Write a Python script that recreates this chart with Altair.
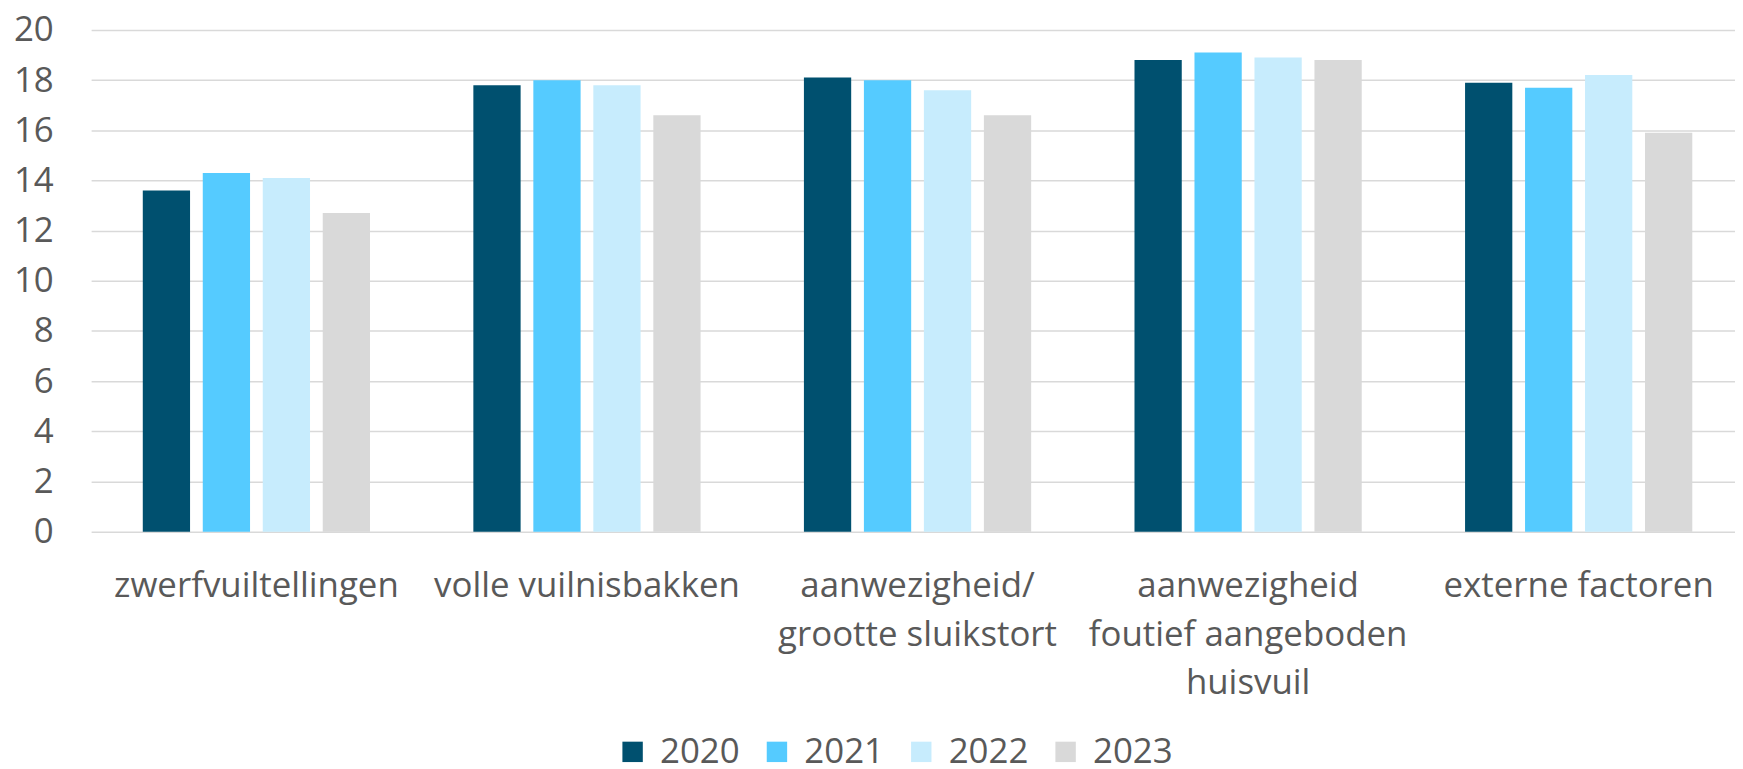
import altair as alt
import pandas as pd

categories = [
    "zwerfvuiltellingen",
    "volle vuilnisbakken",
    "aanwezigheid/|grootte sluikstort",
    "aanwezigheid|foutief aangeboden|huisvuil",
    "externe factoren",
]
years = ["2020", "2021", "2022", "2023"]
v2020 = [13.6, 17.8, 18.1, 18.8, 17.9]
v2021 = [14.3, 18.0, 18.0, 19.1, 17.7]
v2022 = [14.1, 17.8, 17.6, 18.9, 18.2]
v2023 = [12.7, 16.6, 16.6, 18.8, 15.9]
colors = ["#00506F", "#55CBFF", "#C7ECFD", "#D9D9D9"]

series = {"2020": v2020, "2021": v2021, "2022": v2022, "2023": v2023}
rows = []
for y in years:
    for c, v in zip(categories, series[y]):
        rows.append({"category": c, "year": y, "value": v})
df = pd.DataFrame(rows)

FONT = "Open Sans"
GREY = "#595959"

chart = (
    alt.Chart(df)
    .mark_bar()
    .encode(
        x=alt.X(
            "category:N",
            sort=categories,
            scale=alt.Scale(range=[0, 1660.5], paddingInner=0.3126, paddingOuter=0.1563),
            axis=alt.Axis(
                title=None,
                labelExpr="split(datum.value, '|')",
                labelFont=FONT,
                labelFontSize=35,
                labelColor=GREY,
                labelPadding=37,
                labelLineHeight=49,
                labelLimit=0,
                labelAngle=0,
                ticks=False,
                domain=False,
                grid=False,
            ),
        ),
        xOffset=alt.XOffset(
            "year:N", sort=years, scale=alt.Scale(paddingInner=0.212, paddingOuter=0)
        ),
        y=alt.Y(
            "value:Q",
            scale=alt.Scale(domain=[0, 20], nice=False),
            axis=alt.Axis(
                title=None,
                values=list(range(0, 21, 2)),
                labelFont=FONT,
                labelFontSize=35,
                labelColor=GREY,
                labelPadding=38,
                ticks=False,
                domain=False,
                grid=True,
                gridColor="#D9D9D9",
                gridWidth=1.5,
            ),
        ),
        color=alt.Color(
            "year:N",
            sort=years,
            scale=alt.Scale(domain=years, range=colors),
            legend=alt.Legend(
                title=None,
                orient="none",
                direction="horizontal",
                legendX=526.5,
                legendY=707.5,
                symbolType="square",
                symbolSize=420,
                symbolStrokeWidth=0,
                labelFont=FONT,
                labelFontSize=35,
                labelColor=GREY,
                labelOffset=10,
                columnPadding=19,
                padding=0,
            ),
        ),
    )
    .properties(
        width=1651.5,
        height=504,
        autosize=alt.AutoSizeParams(type="none"),
        padding={"left": 83.5, "top": 20.3, "right": 0, "bottom": 236.7},
    )
    .configure_view(stroke=None)
)

chart.save("out.html", embed_options={"renderer": "svg", "actions": False})
